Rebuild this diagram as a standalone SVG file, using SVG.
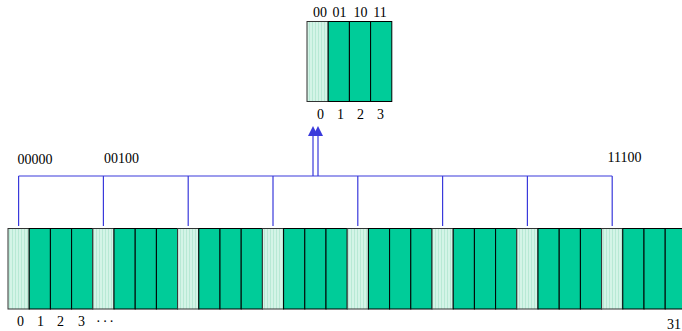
<svg xmlns="http://www.w3.org/2000/svg" width="682" height="331" viewBox="0 0 682 331">
<defs>
<pattern id="stripes" width="3" height="4" patternUnits="userSpaceOnUse">
<rect width="3" height="4" fill="#d4f4e7"/>
<rect width="1" height="4" fill="#b8e9d5"/>
</pattern>
</defs>
<style>
.t{font-family:"Liberation Serif","Times New Roman",serif;font-size:14px;fill:#000}
.m{text-anchor:middle}
.d{fill:#00cc99;stroke:#000;stroke-width:1}
.l{fill:url(#stripes);stroke:#333;stroke-width:1}
.c{fill:none;stroke:#3a3adb;stroke-width:1.2}
.h{fill:#3a3adb;stroke:none}
</style>
<rect width="682" height="331" fill="#fff"/>

<g id="connectors">
<path class="c" d="M18.6,176 H612.2 M18.6,176 V226 M103.4,176 V226 M188.2,176 V226 M273,176 V226 M357.8,176 V226 M442.6,176 V226 M527.4,176 V226 M612.2,176 V226"/>
<path class="c" d="M313,176 V134 M318,176 V134"/>
<path class="h" d="M308,136 L313,126 L318,136 Z"/>
<path class="h" d="M313,136 L318,126 L323,136 Z"/>
</g>

<g id="block">
<rect class="l" x="307" y="21.5" width="21.2" height="80"/>
<rect class="d" x="328.2" y="21.5" width="21.2" height="80"/>
<rect class="d" x="349.4" y="21.5" width="21.2" height="80"/>
<rect class="d" x="370.6" y="21.5" width="21.2" height="80"/>
<text class="t m" x="320" y="17">00</text>
<text class="t m" x="339.5" y="17">01</text>
<text class="t m" x="360.5" y="17">10</text>
<text class="t m" x="380" y="17">11</text>
<text class="t m" x="320.5" y="118.5">0</text>
<text class="t m" x="340.5" y="118.5">1</text>
<text class="t m" x="360.5" y="118.5">2</text>
<text class="t m" x="380.5" y="118.5">3</text>
</g>

<g id="array">
<rect class="l" x="8" y="228.5" width="21.2" height="80.5"/>
<rect class="d" x="29.2" y="228.5" width="21.2" height="80.5"/>
<rect class="d" x="50.4" y="228.5" width="21.2" height="80.5"/>
<rect class="d" x="71.6" y="228.5" width="21.2" height="80.5"/>
<rect class="l" x="92.8" y="228.5" width="21.2" height="80.5"/>
<rect class="d" x="114" y="228.5" width="21.2" height="80.5"/>
<rect class="d" x="135.2" y="228.5" width="21.2" height="80.5"/>
<rect class="d" x="156.4" y="228.5" width="21.2" height="80.5"/>
<rect class="l" x="177.6" y="228.5" width="21.2" height="80.5"/>
<rect class="d" x="198.8" y="228.5" width="21.2" height="80.5"/>
<rect class="d" x="220" y="228.5" width="21.2" height="80.5"/>
<rect class="d" x="241.2" y="228.5" width="21.2" height="80.5"/>
<rect class="l" x="262.4" y="228.5" width="21.2" height="80.5"/>
<rect class="d" x="283.6" y="228.5" width="21.2" height="80.5"/>
<rect class="d" x="304.8" y="228.5" width="21.2" height="80.5"/>
<rect class="d" x="326" y="228.5" width="21.2" height="80.5"/>
<rect class="l" x="347.2" y="228.5" width="21.2" height="80.5"/>
<rect class="d" x="368.4" y="228.5" width="21.2" height="80.5"/>
<rect class="d" x="389.6" y="228.5" width="21.2" height="80.5"/>
<rect class="d" x="410.8" y="228.5" width="21.2" height="80.5"/>
<rect class="l" x="432" y="228.5" width="21.2" height="80.5"/>
<rect class="d" x="453.2" y="228.5" width="21.2" height="80.5"/>
<rect class="d" x="474.4" y="228.5" width="21.2" height="80.5"/>
<rect class="d" x="495.6" y="228.5" width="21.2" height="80.5"/>
<rect class="l" x="516.8" y="228.5" width="21.2" height="80.5"/>
<rect class="d" x="538" y="228.5" width="21.2" height="80.5"/>
<rect class="d" x="559.2" y="228.5" width="21.2" height="80.5"/>
<rect class="d" x="580.4" y="228.5" width="21.2" height="80.5"/>
<rect class="l" x="601.6" y="228.5" width="21.2" height="80.5"/>
<rect class="d" x="622.8" y="228.5" width="21.2" height="80.5"/>
<rect class="d" x="644" y="228.5" width="21.2" height="80.5"/>
<rect class="d" x="665.2" y="228.5" width="21.2" height="80.5"/>
<text class="t m" x="20.6" y="326">0</text>
<text class="t m" x="40.6" y="326">1</text>
<text class="t m" x="60.6" y="326">2</text>
<text class="t m" x="81.5" y="326">3</text>
<text class="t" x="96" y="326" letter-spacing="2">···</text>
<text class="t" x="667" y="329">31</text>
</g>

<g id="labels">
<text class="t" x="17.5" y="164">00000</text>
<text class="t" x="104" y="162.5">00100</text>
<text class="t" x="607.5" y="161.5">11100</text>
</g>
</svg>
